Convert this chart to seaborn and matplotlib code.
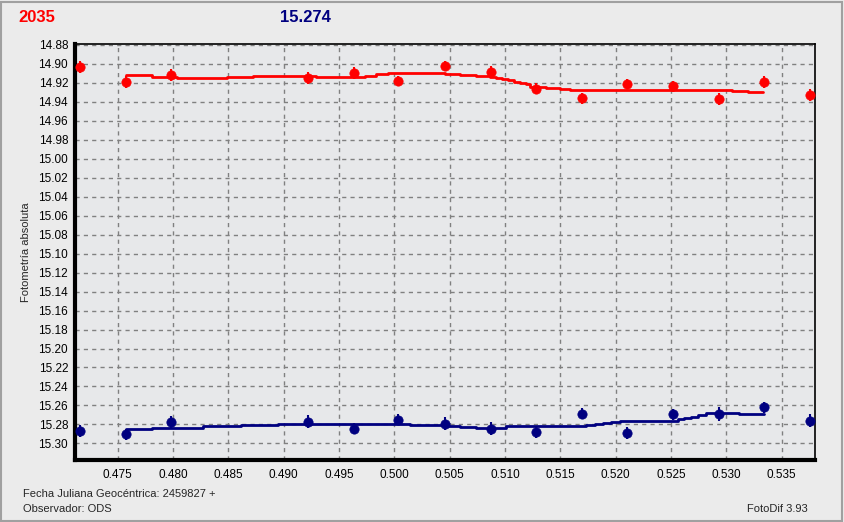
import numpy as np
import pandas as pd
import matplotlib
matplotlib.use('Agg')
import matplotlib.pyplot as plt
import seaborn as sns
from matplotlib.ticker import MultipleLocator, FormatStrFormatter
from matplotlib.patches import Rectangle

# Datos (JD - 2459827)
jd = [0.47161, 0.47577, 0.47980, 0.49217, 0.49633, 0.50036, 0.50461, 0.50877,
      0.51281, 0.51696, 0.52106, 0.52521, 0.52937, 0.53340, 0.53753]
mag_var = [14.9032, 14.9191, 14.9117, 14.9149, 14.9096, 14.9180, 14.9022, 14.9085,
           14.9261, 14.9363, 14.9208, 14.9236, 14.9370, 14.9191, 14.9328]
mag_cmp = [15.2868, 15.2906, 15.2773, 15.2773, 15.2846, 15.2751, 15.2794, 15.2846,
           15.2878, 15.2688, 15.2889, 15.2694, 15.2691, 15.2620, 15.2762]
err_var = [0.006, 0.006, 0.006, 0.006, 0.006, 0.005, 0.005, 0.006,
           0.006, 0.006, 0.005, 0.006, 0.006, 0.006, 0.006]
err_cmp = [0.006, 0.006, 0.006, 0.007, 0.006, 0.006, 0.007, 0.007,
           0.006, 0.006, 0.006, 0.006, 0.007, 0.006, 0.007]

# Medias moviles (escalones)
line_var_x = [0.47576, 0.47808, 0.48039, 0.48485, 0.48725, 0.49297, 0.49733, 0.49839,
              0.49944, 0.50049, 0.50455, 0.50591, 0.50735, 0.50861, 0.50916, 0.50970,
              0.51024, 0.51078, 0.51132, 0.51187, 0.51223, 0.51373, 0.51493, 0.51584,
              0.53055, 0.53199, 0.53334]
line_var_y = [14.9120, 14.9138, 14.9149, 14.9138, 14.9123, 14.9138, 14.9128, 14.9110,
              14.9099, 14.9094, 14.9106, 14.9117, 14.9128, 14.9138, 14.9149, 14.9159,
              14.9173, 14.9187, 14.9201, 14.9215, 14.9244, 14.9257, 14.9265, 14.9275,
              14.9286, 14.9297, 14.9297]
line_cmp_x = [0.47576, 0.47808, 0.48274, 0.48611, 0.48951, 0.50139, 0.50455, 0.50591,
              0.50741, 0.51012, 0.51267, 0.51734, 0.51809, 0.51881, 0.51953, 0.52035,
              0.52561, 0.52621, 0.52684, 0.52747, 0.52817, 0.53118, 0.53337]
line_cmp_y = [15.2850, 15.2839, 15.2821, 15.2807, 15.2794, 15.2807, 15.2815, 15.2828,
              15.2842, 15.2821, 15.2815, 15.2804, 15.2794, 15.2783, 15.2773, 15.2762,
              15.2744, 15.2733, 15.2717, 15.2702, 15.2684, 15.2695, 15.2695]

RED = '#ff0000'
NAVY = '#000080'

sns.set_style('white')
plt.rcParams['font.family'] = ['Liberation Sans', 'DejaVu Sans']

fig = plt.figure(figsize=(8.44, 5.22), dpi=100, facecolor='#ebebeb')
ax = fig.add_axes([0.0889, 0.1197, 0.966 - 0.0889, 0.9157 - 0.1197])
ax.set_facecolor('#e7e8ea')

# lineas de media
for lx, ly, col in [(line_var_x, line_var_y, RED), (line_cmp_x, line_cmp_y, NAVY)]:
    sns.lineplot(x=lx, y=ly, ax=ax, color=col, linewidth=2, drawstyle='steps-post',
                 estimator=None, sort=False, zorder=3)

# puntos con barras de error
for my, me, col in [(mag_var, err_var, RED), (mag_cmp, err_cmp, NAVY)]:
    ax.errorbar(jd, my, yerr=me, fmt='none', ecolor=col, elinewidth=1.5, capsize=0, zorder=4)
    sns.scatterplot(x=jd, y=my, ax=ax, color=col, s=45, marker='o',
                    edgecolor=col, linewidth=0.5, zorder=5)

ax.set_xlim(0.47116, 0.53803)
ax.set_ylim(15.317, 14.879)
ax.xaxis.set_major_locator(MultipleLocator(0.005))
ax.xaxis.set_minor_locator(MultipleLocator(0.0025))
ax.xaxis.set_major_formatter(FormatStrFormatter('%.3f'))
ax.yaxis.set_major_locator(MultipleLocator(0.02))
ax.yaxis.set_major_formatter(FormatStrFormatter('%.2f'))

ax.grid(True, which='major', color='#808080', linestyle=(0, (3, 3)), linewidth=1)
ax.tick_params(axis='both', which='major', labelsize=8.5, colors='black', width=1)
ax.tick_params(axis='y', direction='inout', length=8, pad=1)
ax.tick_params(axis='x', which='minor', length=4, width=1, direction='out')
ax.tick_params(axis='x', which='major', length=5, direction='out', pad=1.5)

for side, w in [('left', 3), ('bottom', 3), ('right', 1.2), ('top', 1.2)]:
    ax.spines[side].set_visible(True)
    ax.spines[side].set_color('black')
    ax.spines[side].set_linewidth(w)

ax.set_ylabel('Fotometría absoluta', fontsize=8, labelpad=5)
ax.set_xlabel('')

# textos
fig.text(18 / 844, 1 - 18 / 522, '2035', color=RED, fontsize=12, fontweight='bold',
         va='center', ha='left')
fig.text(280 / 844, 1 - 18 / 522, '15.274', color=NAVY, fontsize=12, fontweight='bold',
         va='center', ha='left')
fig.text(23 / 844, 1 - 494 / 522, 'Fecha Juliana Geocéntrica: 2459827 +', fontsize=8,
         va='center', ha='left')
fig.text(23 / 844, 1 - 509 / 522, 'Observador: ODS', fontsize=8, va='center', ha='left')
fig.text(808 / 844, 1 - 509 / 522, 'FotoDif 3.93', fontsize=8, va='center', ha='right')

# marco de la ventana
fig.patches.append(Rectangle((0.001, 0.002), 0.997, 0.995, transform=fig.transFigure,
                             fill=False, edgecolor='#a0a0a0', linewidth=1.5))

fig.savefig('out.png', dpi=100, facecolor=fig.get_facecolor())
